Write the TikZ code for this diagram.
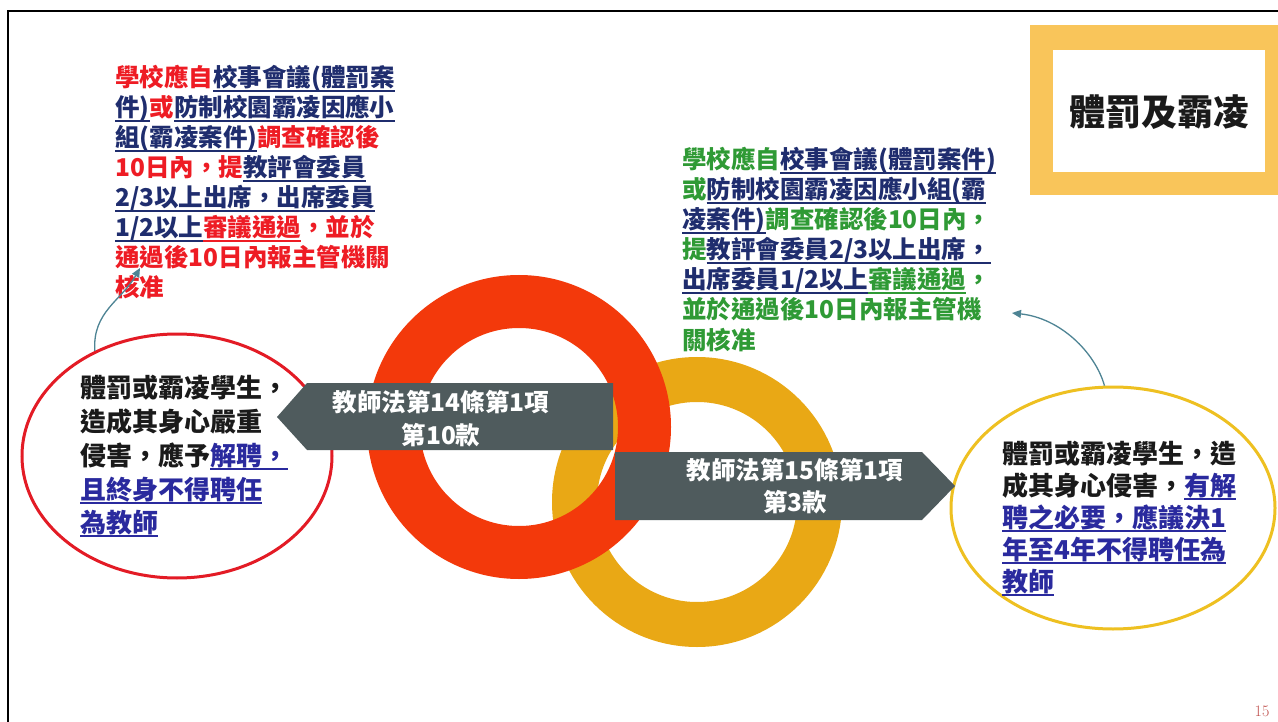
\documentclass[tikz,border=0pt]{standalone}
\usepackage{fontspec}
\usetikzlibrary{shapes.geometric,arrows.meta}
\newfontfamily\cjk{Noto Sans CJK TC}
\definecolor{tred}{HTML}{EE1C24}
\definecolor{tgrn}{HTML}{2F9A35}
\definecolor{tnavy}{HTML}{1F2D6E}
\definecolor{tblue}{HTML}{2A2A9E}
\definecolor{tblk}{HTML}{1A1A1A}
\definecolor{ringred}{HTML}{F3390B}
\definecolor{ringyel}{HTML}{E9A815}
\definecolor{ellred}{HTML}{E31B25}
\definecolor{ellyel}{HTML}{EEC021}
\definecolor{boxorg}{HTML}{F9C55A}
\definecolor{arrgray}{HTML}{4F5B5D}
\definecolor{conn}{HTML}{4E8494}
\definecolor{pgnum}{HTML}{C0504D}
\newcommand{\uln}[1]{\setbox0\hbox{#1}\rlap{\rule[-5pt]{\wd0}{1.6pt}}\box0}
\newcommand{\redt}[1]{\textcolor{tred}{#1}}
\newcommand{\grnt}[1]{\textcolor{tgrn}{#1}}
\newcommand{\navu}[1]{\textcolor{tnavy}{\uln{#1}}}
\newcommand{\bluu}[1]{\textcolor{tblue}{\uln{#1}}}
\tikzset{
  blk/.style={anchor=base west, inner sep=0pt, font=\cjk\bfseries\fontsize{24.5}{30}\selectfont},
  elt/.style={anchor=base west, inner sep=0pt, text=tblk, font=\cjk\bfseries\fontsize{26}{32}\selectfont},
  arrtxt/.style={anchor=base, inner sep=0pt, text=white, font=\cjk\bfseries\fontsize{24.5}{30}\selectfont},
  ring/.style={line width=#1},
  conna/.style={draw=conn, line width=1.3pt, -{Triangle[length=9pt,width=8pt]}},
}
\begin{document}
\begin{tikzpicture}[x=1pt,y=-1pt]
\useasboundingbox (0,0) rectangle (1278,722);
\fill[white] (0,0) rectangle (1278,722);
% frame
\draw[black, line width=2.5pt] (8,722) -- (8,11) -- (1278,11);
% title box
\fill[boxorg] (1030,25) rectangle (1278,195);
\fill[white] (1053,50) rectangle (1265,172);
\node[inner sep=0pt, font=\cjk\bfseries\fontsize{36}{40}\selectfont, text=tblk] (title) at (1159,112) {體罰及霸凌};
% ellipses
\node[draw=ellred, line width=3pt, ellipse, minimum width=310pt, minimum height=244pt, inner sep=0pt] (lell) at (177,456) {};
\node[draw=ellyel, line width=3pt, ellipse, minimum width=324pt, minimum height=242pt, inner sep=0pt] (rell) at (1113,508) {};
% rings
\draw[ringyel, ring=45pt] (697,502) circle (122.5);
\draw[ringred, ring=53pt] (519,427) circle (125.5);
% arrows
\fill[arrgray] (613,383) -- (307,383) -- (277,417) -- (307,450) -- (613,450) -- cycle;
\fill[arrgray] (615,452) -- (922,452) -- (955,486) -- (922,520) -- (615,520) -- cycle;
\node[arrtxt] (a14a) at (441,411) {教師法第14條第1項};
\node[arrtxt] (a14b) at (441,444) {第10款};
\node[arrtxt] (a15a) at (795,479) {教師法第15條第1項};
\node[arrtxt] (a15b) at (795,511) {第3款};
% red block
\node[blk] (r1) at (115,87) {\redt{學校應自}\navu{校事會議(體罰案}};
\node[blk] (r2) at (115,117) {\navu{件)}\redt{或}\navu{防制校園霸凌因應小}};
\node[blk] (r3) at (115,147) {\navu{組(霸凌案件)}\redt{調查確認後}};
\node[blk] (r4) at (115,177) {\redt{10日內，提}\navu{教評會委員}};
\node[blk] (r5) at (115,207) {\navu{2/3以上出席，出席委員}};
\node[blk] (r6) at (115,237) {\navu{1/2以上}\textcolor{tred}{\uln{審議通過}}\redt{，並於}};
\node[blk] (r7) at (115,267) {\redt{通過後10日內報主管機關}};
\node[blk] (r8) at (115,297) {\redt{核准}};
% green block
\node[blk] (g1) at (682,169) {\grnt{學校應自}\navu{校事會議(體罰案件)}};
\node[blk] (g2) at (682,199) {\grnt{或}\navu{防制校園霸凌因應小組(霸}};
\node[blk] (g3) at (682,229) {\navu{凌案件)}\grnt{調查確認後10日內，}};
\node[blk] (g4) at (682,259) {\grnt{提}\navu{教評會委員2/3以上出席，}};
\node[blk] (g5) at (682,289) {\navu{出席委員1/2以上}\textcolor{tgrn}{\uln{審議通過}}\grnt{，}};
\node[blk] (g6) at (682,319) {\grnt{並於通過後10日內報主管機}};
\node[blk] (g7) at (682,349) {\grnt{關核准}};
% left ellipse text
\node[elt] (l1) at (80,397) {體罰或霸凌學生，};
\node[elt] (l2) at (80,431) {造成其身心嚴重};
\node[elt] (l3) at (80,465) {侵害，應予\bluu{解聘，}};
\node[elt] (l4) at (80,499) {\bluu{且終身不得聘任}};
\node[elt] (l5) at (80,532) {\bluu{為教師}};
% right ellipse text
\node[elt] (e1) at (1002,463) {體罰或霸凌學生，造};
\node[elt] (e2) at (1002,495) {成其身心侵害，\bluu{有解}};
\node[elt] (e3) at (1002,527) {\bluu{聘之必要，應議決1}};
\node[elt] (e4) at (1002,559) {\bluu{年至4年不得聘任為}};
\node[elt] (e5) at (1002,591) {\bluu{教師}};
% connectors
\coordinate (lt) at (140,268);
\coordinate (gt) at (1012,313);
\draw[conna] (lell.128) .. controls (92,312) and (122,300) .. (lt);
\draw[conna] (rell.94) .. controls (1095,352) and (1060,318) .. (gt);
% page number
\node[inner sep=0pt, text=pgnum, font=\fontsize{16}{18}\selectfont] (pg) at (1262,711) {15};
\end{tikzpicture}
\end{document}
